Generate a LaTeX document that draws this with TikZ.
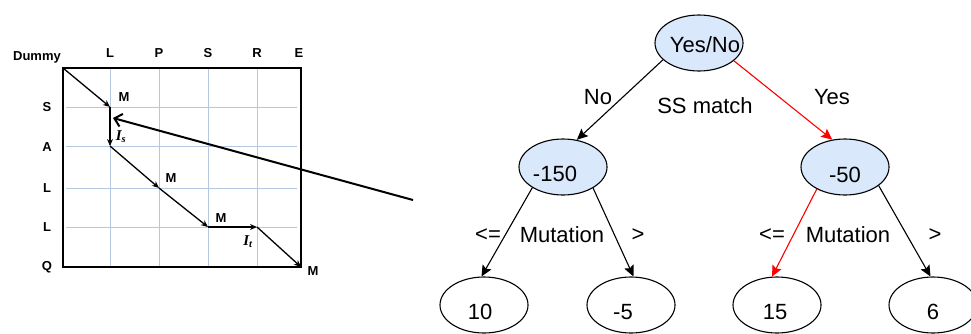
\documentclass[tikz,border=0pt]{standalone}
\usepackage{fontspec}
\setmainfont{Liberation Sans}
\newfontfamily\serifbi{Liberation Serif}
\usetikzlibrary{shapes.geometric,arrows.meta}

\definecolor{nodefill}{HTML}{DAE8FC}
\definecolor{gridblue}{RGB}{182,200,224}
\definecolor{pathred}{RGB}{255,0,0}

\tikzset{
  treenode/.style={ellipse, draw=black, line width=1.1pt, fill=nodefill,
    minimum width=88pt, minimum height=56pt, inner sep=0pt},
  leafnode/.style={treenode, fill=white},
  treetext/.style={font=\fontsize{22}{26}\selectfont, inner sep=0pt},
  treeedge/.style={line width=1.1pt, -{Stealth[length=11pt,width=10pt,inset=2pt]}},
  redge/.style={treeedge, draw=pathred, -{Stealth[length=11pt,width=10pt,inset=2pt,fill=pathred]}},
  axislabel/.style={font=\bfseries\fontsize{13}{15}\selectfont, inner sep=0pt},
  movelabel/.style={font=\bfseries\fontsize{13}{15}\selectfont, inner sep=0pt},
  gaplabel/.style={font=\serifbi\bfseries\itshape\fontsize{15}{17}\selectfont, inner sep=0pt},
  gridline/.style={draw=gridblue, line width=0.8pt},
  alignstep/.style={line width=1.3pt, -{Stealth[length=7pt,width=6pt]}},
  pointer/.style={line width=2pt, -{Straight Barb[length=7pt,width=13pt,line width=2pt]}}
}

\begin{document}
\begin{tikzpicture}[x=1pt,y=-1pt]
\useasboundingbox[fill=white] (0,0) rectangle (971,333);

% ---------- alignment matrix ----------
\foreach \gx in {110,159,208,257} \draw[gridline] (\gx,68) -- (\gx,267);
\foreach \gy in {107,146,188,227} \draw[gridline] (66,\gy) -- (297,\gy);
\draw[line width=1.8pt] (63,68) rectangle (301,267);

\node[axislabel] (dummy) at (37,57) {Dummy};
\node[axislabel] (cL) at (110,53) {L};
\node[axislabel] (cP) at (159,53) {P};
\node[axislabel] (cS) at (208,53) {S};
\node[axislabel] (cR) at (257,53) {R};
\node[axislabel] (cE) at (299,53) {E};

\node[axislabel] (rS) at (47,107) {S};
\node[axislabel] (rA) at (47,147) {A};
\node[axislabel] (rL1) at (47,188) {L};
\node[axislabel] (rL2) at (47,227) {L};
\node[axislabel] (rQ) at (47,267) {Q};

\coordinate (p0) at (63,68);
\coordinate (p1) at (110,107);
\coordinate (p2) at (110,146);
\coordinate (p3) at (159,188);
\coordinate (p4) at (208,227);
\coordinate (p5) at (257,227);
\coordinate (p6) at (301,267);

\draw[alignstep] (p0) -- (p1);
\draw[alignstep] (p1) -- (p2);
\draw[alignstep] (p2) -- (p3);
\draw[alignstep] (p3) -- (p4);
\draw[alignstep] (p4) -- (p5);
\draw[alignstep] (p5) -- (p6);

\node[movelabel] (m1) at (124,97) {M};
\node[gaplabel] (gs) at (121,137) {I\textsubscript{s}};
\node[movelabel] (m2) at (171,178) {M};
\node[movelabel] (m3) at (221,218) {M};
\node[gaplabel] (gt) at (248,242) {I\textsubscript{t}};
\node[movelabel] (m4) at (313,271) {M};

% pointer from the tree to the gap in the alignment
\coordinate (ptail) at (413,200);
\coordinate (phead) at (113,118);
\draw[pointer] (ptail) -- (phead);

% ---------- decision tree ----------
\node[treenode, label={[treetext, xshift=6pt, yshift=-2pt]center:Yes/No}] (root) at (699,43) {};
\node[treenode, label={[treetext, xshift=-8pt, yshift=-7pt]center:-150}] (nno) at (563,167) {};
\node[treenode, label={[treetext, yshift=-8pt]center:-50}] (nyes) at (845,167) {};

\node[leafnode, label={[treetext, xshift=-4pt, yshift=-7pt]center:10}] (l10) at (484,305) {};
\node[leafnode, label={[treetext, xshift=-8pt, yshift=-7pt]center:-5}] (l5) at (631,305) {};
\node[leafnode, label={[treetext, xshift=-2pt, yshift=-7pt]center:15}] (l15) at (777,305) {};
\node[leafnode, label={[treetext, yshift=-7pt]center:6}] (l6) at (933,305) {};

\draw[treeedge] (root.205) -- (nno.63);
\draw[redge] (root.-27) -- (nyes.115);
\draw[treeedge] (nno.214) -- (l10.95);
\draw[treeedge] (nno.-35) -- (l5.85);
\draw[redge] (nyes.-142) -- (l15.100);
\draw[treeedge] (nyes.-29) -- (l6.95);

\node[treetext] (tno) at (598,97) {No};
\node[treetext] (tss) at (705,106) {SS match};
\node[treetext] (tyes) at (832,97) {Yes};

\node[treetext] (le1) at (488,235) {<=};
\node[treetext] (mut1) at (562,235) {Mutation};
\node[treetext] (gt1) at (638,235) {>};
\node[treetext] (le2) at (772,235) {<=};
\node[treetext] (mut2) at (848,235) {Mutation};
\node[treetext] (gt2) at (935,235) {>};
\end{tikzpicture}
\end{document}
